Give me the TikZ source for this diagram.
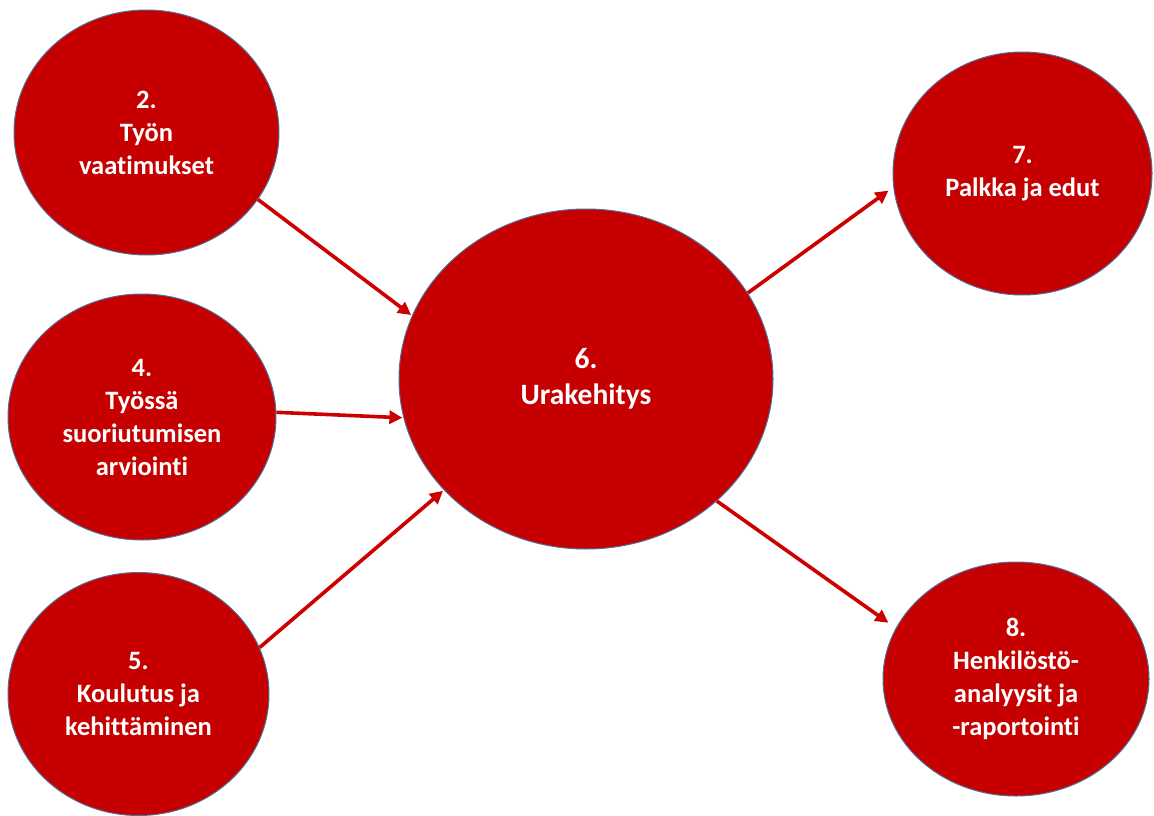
\documentclass[tikz,border=0pt]{standalone}
\usepackage{fontspec}
\setmainfont{Carlito}[Ligatures=NoCommon]
\usetikzlibrary{shapes.geometric,arrows.meta}
\definecolor{bubblered}{HTML}{C60000}
\definecolor{bubbleedge}{HTML}{4F6F96}
\definecolor{linkred}{HTML}{CC0000}
\tikzset{
  bubble/.style={ellipse, fill=bubblered, draw=bubbleedge, line width=1pt,
    inner sep=0pt, align=center, text=white,
    font=\fontsize{26.5}{33}\selectfont\bfseries},
  bigbubble/.style={bubble, font=\fontsize{29.5}{36}\selectfont\bfseries},
  link/.style={draw=linkred, line width=3.6pt,
    -{Triangle[length=13pt,width=13pt]}, shorten >=1pt}
}
\begin{document}
\begin{tikzpicture}[x=1pt,y=-1pt]
\useasboundingbox (0,0) rectangle (1154,816);

\node[bubble, minimum width=265pt, minimum height=245pt] (n2) at (146.5,132.5)
  {2.\\Työn\\vaatimukset};
\node[bubble, minimum width=268pt, minimum height=246pt] (n4) at (142,417)
  {4.\\Työssä\\suoriutumisen\\arviointi};
\node[bubble, minimum width=261pt, minimum height=243pt] (n5) at (138.5,694)
  {5.\\Koulutus ja\\kehittäminen};
\node[bigbubble, minimum width=374pt, minimum height=340pt] (n6) at (586,379)
  {6.\\Urakehitys};
\node[bubble, minimum width=259pt, minimum height=243pt] (n7) at (1022.5,173.5)
  {7.\\Palkka ja edut};
\node[bubble, minimum width=266pt, minimum height=234pt] (n8) at (1016,679)
  {8.\\Henkilöstö-\\analyysit ja\\-raportointi};

% inputs into career development
\draw[link] (n2.-31) -- (n6.160.4);
\draw[link] (n4.2.6) -- (n6.-168.6);
\draw[link] (n5.21.6) -- (n6.-142.9);
% outputs from career development
\draw[link, shorten >=6pt] (n6.28.4) -- (n7.186.2);
\draw[link, shorten >=9pt] (n6.-43.2) -- (n8.157.6);
\end{tikzpicture}
\end{document}
